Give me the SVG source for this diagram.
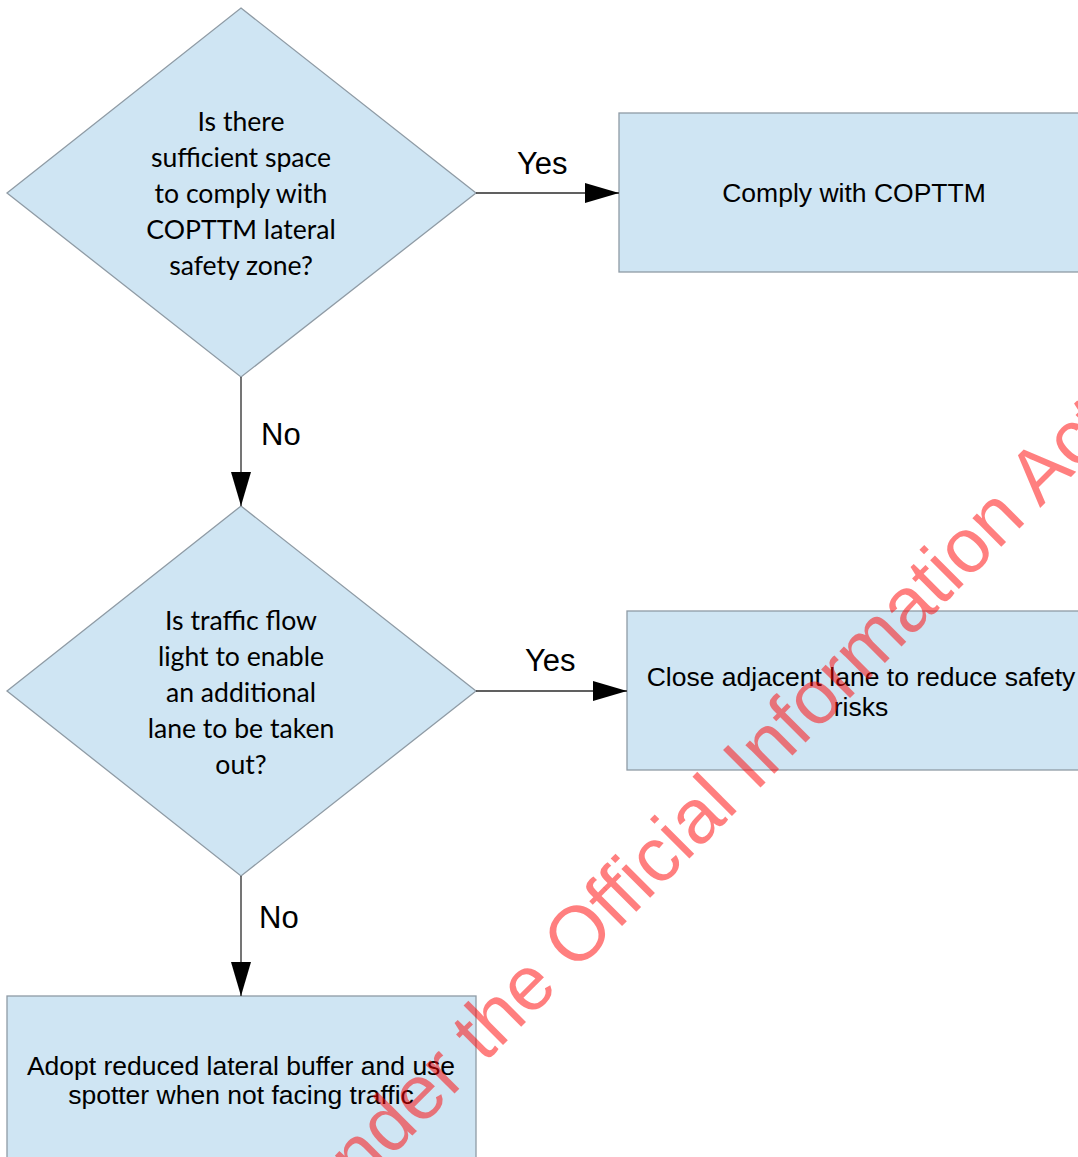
<svg xmlns="http://www.w3.org/2000/svg" width="1078" height="1157" viewBox="0 0 1078 1157">
  <style>
    .shape { fill: #cfe5f3; stroke: #8f9ba5; stroke-width: 1.3; }
    .qtext { font-family: Lato, "Open Sans", sans-serif; font-size: 26.6px; fill: #000; text-anchor: middle; }
    .btext { font-family: "Liberation Sans", Arial, sans-serif; font-size: 26.5px; fill: #000; text-anchor: middle; }
    .label { font-family: "Liberation Sans", Arial, sans-serif; font-size: 31px; fill: #000; }
    .conn { stroke: #2b2b2b; stroke-width: 1.3; fill: none; marker-end: url(#arrow); }
    .stamp { font-family: "Liberation Sans", Arial, sans-serif; font-size: 77px; fill: #ff0000; fill-opacity: 0.5; }
  </style>
  <defs>
    <marker id="arrow" markerUnits="userSpaceOnUse" markerWidth="35" markerHeight="22" refX="34" refY="11" orient="auto" viewBox="0 0 35 22">
      <path d="M0,1 L34,11 L0,21 Z" fill="#000"/>
    </marker>
  </defs>
  <rect width="1078" height="1157" fill="#fff"/>

  <!-- decision: lateral safety zone -->
  <g id="q-space">
    <polygon class="shape" points="241,8 476,193 241,377 7,193"/>
    <text class="qtext" x="241" y="131">Is there</text>
    <text class="qtext" x="241" y="167">sufficient space</text>
    <text class="qtext" x="241" y="203">to comply with</text>
    <text class="qtext" x="241" y="239">COPTTM lateral</text>
    <text class="qtext" x="241" y="275">safety zone?</text>
  </g>

  <!-- action: comply -->
  <g id="a-comply">
    <rect class="shape" x="619" y="113" width="470" height="159"/>
    <text class="btext" x="854" y="202">Comply with COPTTM</text>
  </g>

  <!-- decision: traffic flow -->
  <g id="q-traffic">
    <polygon class="shape" points="241,506 476,691 241,876 7,691"/>
    <text class="qtext" x="241" y="630">Is traffic flow</text>
    <text class="qtext" x="241" y="666">light to enable</text>
    <text class="qtext" x="241" y="702">an additional</text>
    <text class="qtext" x="241" y="738">lane to be taken</text>
    <text class="qtext" x="241" y="774">out?</text>
  </g>

  <!-- action: close lane -->
  <g id="a-close">
    <rect class="shape" x="627" y="611" width="469" height="159"/>
    <text class="btext" x="861" y="686">Close adjacent lane to reduce safety</text>
    <text class="btext" x="861" y="716">risks</text>
  </g>

  <!-- action: reduced buffer -->
  <g id="a-buffer">
    <rect class="shape" x="7" y="996" width="469" height="170"/>
    <text class="btext" x="241" y="1075">Adopt reduced lateral buffer and use</text>
    <text class="btext" x="241" y="1104">spotter when not facing traffic</text>
  </g>

  <!-- connectors -->
  <g id="connectors">
    <line class="conn" x1="476" y1="193" x2="619" y2="193"/>
    <line class="conn" x1="241" y1="377" x2="241" y2="506"/>
    <line class="conn" x1="476" y1="691" x2="627" y2="691"/>
    <line class="conn" x1="241" y1="876" x2="241" y2="996"/>
    <text class="label" x="517" y="174">Yes</text>
    <text class="label" x="261" y="445">No</text>
    <text class="label" x="525" y="671">Yes</text>
    <text class="label" x="259" y="928">No</text>
  </g>

  <!-- release stamp -->
  <text class="stamp" x="360" y="1188" transform="rotate(-45 360 1188)">nder the Official Information Act</text>
</svg>
